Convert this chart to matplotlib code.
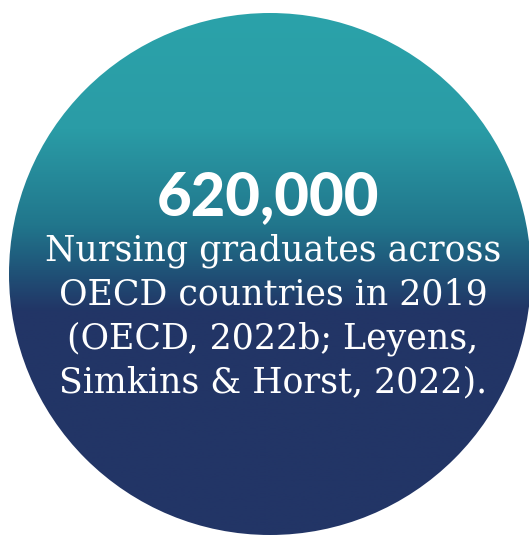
import numpy as np
import matplotlib.pyplot as plt
from matplotlib.patches import Circle
from matplotlib.colors import LinearSegmentedColormap

# infographic content
headline = "620,000"
body_lines = ["Nursing graduates across",
              "OECD countries in 2019",
              "(OECD, 2022b; Leyens,",
              "Simkins & Horst, 2022)."]

W, H = 529, 536
fig = plt.figure(figsize=(W / 100, H / 100), dpi=100)
ax = fig.add_axes([0, 0, 1, 1])
ax.set_xlim(0, W)
ax.set_ylim(H, 0)
ax.axis('off')

# vertical teal -> navy gradient, clipped to the circle
cmap = LinearSegmentedColormap.from_list(
    'tealnavy', [(0.0, '#2ba3aa'), (0.24, '#2a9ca6'), (0.42, '#21768c'),
                 (0.50, '#1f5579'), (0.58, '#223566'), (1.0, '#223566')])
grad = np.linspace(0, 1, 256).reshape(-1, 1)
img = ax.imshow(grad, cmap=cmap, extent=[0, W, H, 0], aspect='auto')
circ = Circle((270, 274), 261, transform=ax.transData, facecolor='none', edgecolor='none')
ax.add_patch(circ)
img.set_clip_path(circ)

ax.text(268, 215, headline, ha='center', va='baseline', color='white',
        fontsize=43, fontweight='black', family=['Lato', 'DejaVu Sans'])

y0, dy = 260, 44.3
for i, line in enumerate(body_lines):
    ax.text(273, y0 + i * dy, line, ha='center', va='baseline', color='white',
            fontsize=25, family=['DejaVu Serif'])

fig.savefig('out.png', dpi=100)
